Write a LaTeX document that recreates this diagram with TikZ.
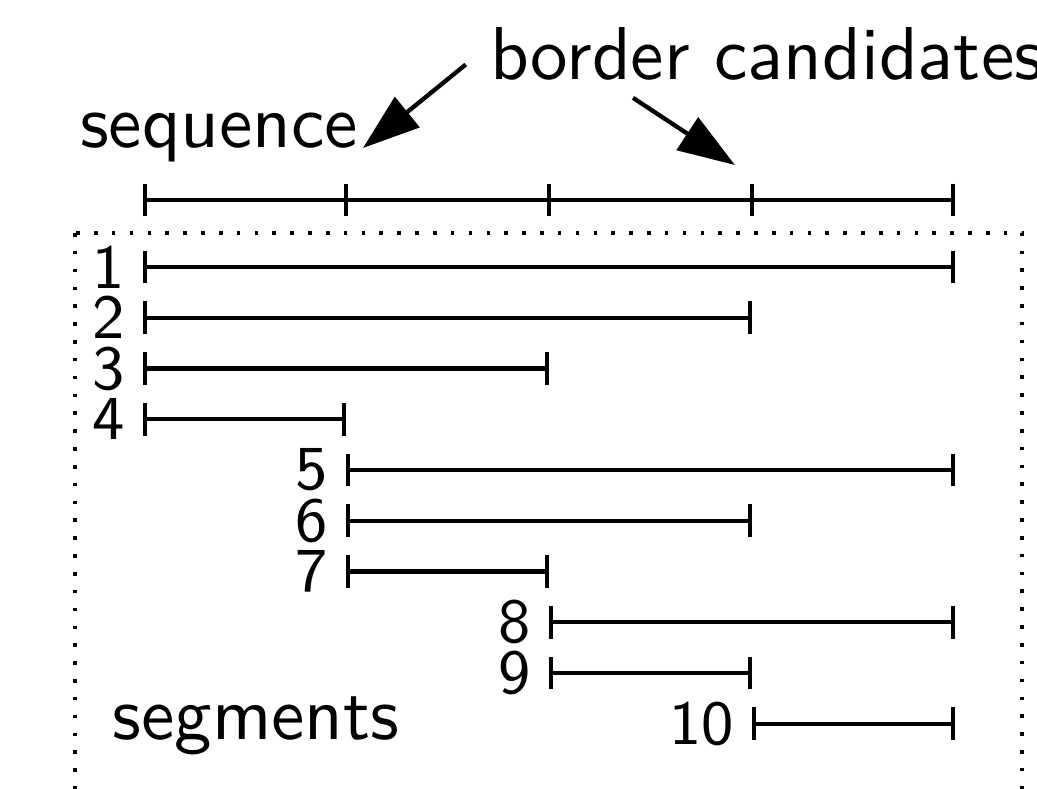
\documentclass[tikz,border=0pt]{standalone}
\usetikzlibrary{arrows.meta}
\begin{document}
\begin{tikzpicture}[line width=0.6pt,
    seg/.style={{Bar[width=4.6pt]}-{Bar[width=4.6pt]}},
    lbl/.style={font=\sffamily\fontsize{10.5}{12}\selectfont, inner sep=0pt},
    num/.style={font=\sffamily\fontsize{8.8}{10}\selectfont, left, inner sep=2.2pt},
    note/.style={-{Triangle[length=8pt,width=5.4pt]}}]
\clip (-0.704,-2.567) rectangle (4.404,1.315);
\draw[dotted, line width=0.5pt] (-0.335,0.167) rectangle (4.33,-3);
% the sequence with its borders
\foreach \i in {0,...,4}
    \coordinate (t\i) at (\i,0.33);
\draw[seg] (t0) -- (t4);
\foreach \i in {1,2,3}
    \draw ([yshift=-2.3pt]t\i) -- ([yshift=2.3pt]t\i);
% all segments
\foreach \n/\a/\b in {1/0/4, 2/0/3, 3/0/2, 4/0/1, 5/1/4, 6/1/3, 7/1/2, 8/2/4, 9/2/3, 10/3/4} {
    \coordinate (s\n) at (\a,{-(\n-1)*0.25});
    \coordinate (e\n) at (\b,{-(\n-1)*0.25});
    \draw[seg] (s\n) -- (e\n);
    \node[num] (n\n) at (s\n) {\n};
}
\node[lbl, anchor=base west] (seq) at (-0.32,0.586) {sequence};
\node[lbl, anchor=base west] (bc) at (1.70,0.921) {border candidates};
\node[lbl, anchor=mid west] (segs) at (-0.16,-2.25) {segments};
% arrows to the candidates
\coordinate (a1) at ([shift={(-0.11,-0.05)}]bc.west);
\coordinate (a2) at ([shift={(0.714,-0.088)}]bc.base west);
\coordinate (p1) at (1.084,0.586);
\coordinate (p2) at (2.916,0.502);
\draw[note] (a1) -- (p1);
\draw[note] (a2) -- (p2);
\end{tikzpicture}
\end{document}
